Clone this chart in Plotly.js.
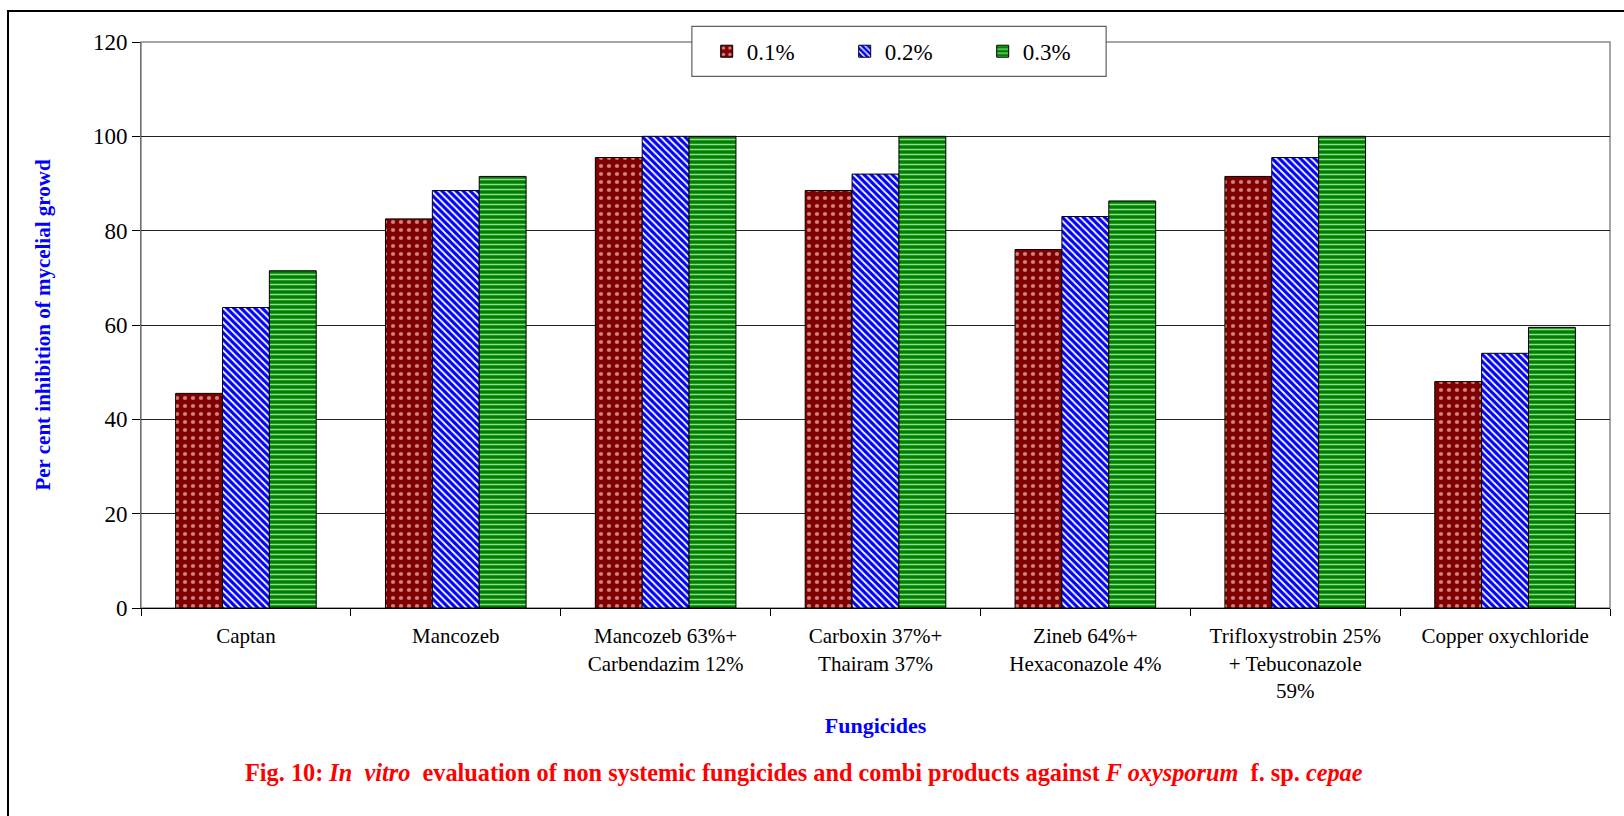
<!DOCTYPE html>
<html>
<head>
<meta charset="utf-8">
<script src="https://cdn.plot.ly/plotly-3.0.1.min.js"></script>
<style>
  html, body { margin: 0; padding: 0; background: #fff; overflow: hidden; }
  #frame { position: absolute; left: 7px; top: 10px; width: 1700px; height: 900px;
           border: 2px solid #000; box-sizing: border-box; pointer-events: none; z-index: 5; }
  #chart { width: 1624px; height: 816px; }
</style>
</head>
<body>
<div id="frame"></div>
<div id="chart"></div>
<script>
// Fungicide names (x categories)
const fungicides = [
  'Captan',
  'Mancozeb',
  'Mancozeb 63%+<br>Carbendazim 12%',
  'Carboxin 37%+<br>Thairam 37%',
  'Zineb 64%+<br>Hexaconazole 4%',
  'Trifloxystrobin 25%<br>+ Tebuconazole<br>59%',
  'Copper oxychloride'
];

// Concentration series names
const seriesNames = ['0.1%', '0.2%', '0.3%'];

// Per cent inhibition of mycelial growth at each concentration
const conc01 = [45.5, 82.5, 95.5, 88.5, 76.0, 91.5, 48.0];
const conc02 = [63.7, 88.5, 100, 92.0, 83.0, 95.5, 54.0];
const conc03 = [71.5, 91.5, 100, 100, 86.3, 100, 59.5];

const yTicks = [0, 20, 40, 60, 80, 100, 120];

const serif = 'Liberation Serif, Times New Roman, serif';

const styles = [
  { bg: '#800000', fg: '#d08080', shape: '.', size: 8, solidity: 0.22 },
  { bg: '#0000ff', fg: '#ffffff', shape: '\\', size: 5, solidity: 0.35 },
  { bg: '#008000', fg: '#8fdc8f', shape: '-', size: 5, solidity: 0.3 }
];

const values = [conc01, conc02, conc03];

const traces = values.map((v, i) => ({
  type: 'bar',
  name: seriesNames[i],
  x: fungicides,
  y: v,
  marker: {
    color: styles[i].bg,
    line: { color: '#000', width: 1 },
    pattern: {
      shape: styles[i].shape,
      bgcolor: styles[i].bg,
      fgcolor: styles[i].fg,
      size: styles[i].size,
      solidity: styles[i].solidity
    }
  },
  hoverinfo: 'x+y+name'
}));

const layout = {
  width: 1624,
  height: 816,
  margin: { l: 141, r: 14, t: 42, b: 208 },
  paper_bgcolor: '#fff',
  plot_bgcolor: '#fff',
  barmode: 'group',
  bargap: 0.33,
  bargroupgap: 0,
  font: { family: serif, color: '#000', size: 18 },
  showlegend: true,
  legend: {
    orientation: 'h',
    x: 0.526, xanchor: 'center',
    y: 0.9836, yanchor: 'middle',
    bgcolor: 'rgba(0,0,0,0)',
    borderwidth: 0,
    font: { family: serif, size: 23, color: '#000' },
    entrywidth: 93,
    entrywidthmode: 'pixels',
    itemwidth: 30
  },
  xaxis: {
    type: 'category',
    tickson: 'boundaries',
    ticks: 'outside',
    ticklen: 7,
    tickcolor: '#000',
    ticklabelstandoff: 9,
    showline: true,
    linecolor: '#000',
    linewidth: 1,
    showgrid: false,
    tickfont: { family: serif, size: 21, color: '#000' },
    title: {
      text: '<b>Fungicides</b>',
      font: { family: serif, size: 22, color: '#0000ff' },
      standoff: 15
    }
  },
  yaxis: {
    range: [0, 120],
    tickvals: yTicks,
    ticktext: yTicks.map(String),
    ticks: 'outside',
    ticklen: 8,
    tickcolor: '#000',
    showline: true,
    linecolor: '#707070',
    linewidth: 1,
    showgrid: true,
    gridcolor: '#222',
    gridwidth: 1,
    zeroline: false,
    tickfont: { family: serif, size: 23, color: '#000' },
    title: {
      text: '<b>Per cent inhibition of mycelial growd</b>',
      font: { family: serif, size: 21, color: '#0000ff' },
      standoff: 36
    }
  },
  shapes: [
    {
      // plot-area frame
      type: 'rect', xref: 'paper', yref: 'paper',
      x0: 0, x1: 1, y0: 0, y1: 1,
      line: { color: '#888', width: 1.5 },
      layer: 'below'
    },
    {
      // legend box
      type: 'rect', xref: 'paper', yref: 'paper',
      x0: 0.375, x1: 0.657, y0: 0.9394, y1: 1.0277,
      fillcolor: '#fff',
      line: { color: '#606060', width: 1.2 },
      layer: 'above'
    }
  ],
  annotations: [{
    xref: 'paper', yref: 'paper',
    x: 0.4513, y: -0.2907,
    xanchor: 'center', yanchor: 'middle',
    showarrow: false,
    text: '<b>Fig. 10: <i>In  vitro</i>  evaluation of non systemic fungicides and combi products against <i>F oxysporum</i>  f. sp. <i>cepae</i></b>',
    font: { family: serif, size: 24.3, color: '#ff0000' }
  }]
};

Plotly.newPlot('chart', traces, layout, { displayModeBar: false, responsive: false, staticPlot: true });
</script>
</body>
</html>
